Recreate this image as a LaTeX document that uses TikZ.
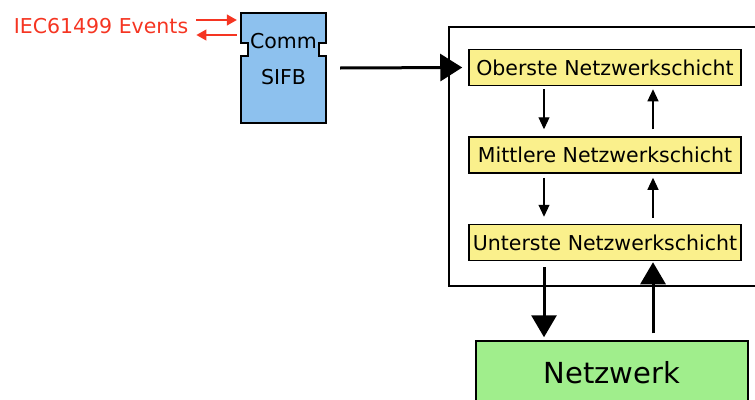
\documentclass[tikz,border=0pt]{standalone}
\usepackage{fontspec}
\setmainfont{DejaVu Sans}
\usetikzlibrary{arrows.meta}
\definecolor{sifbblue}{HTML}{8DC1EE}
\definecolor{layeryellow}{HTML}{FAF08C}
\definecolor{netgreen}{HTML}{A0EE8C}
\definecolor{eventred}{HTML}{F53522}
\tikzset{
    thinarrow/.style={line width=1.2pt,-{Triangle[length=12pt,width=11pt]}},
    thickarrow/.style={line width=3pt,-{Triangle[length=22pt,width=25pt]}}
}
\begin{document}
\begin{tikzpicture}[x=1pt,y=-1pt]
    \useasboundingbox (0,0) rectangle (755,399);
    \clip (0,0) rectangle (755,399);
    % Rahmen um die Schichten
    \draw[line width=1.5pt] (449,27) rectangle (770,286);
    \begin{scope}[every node/.style={draw=black,line width=1.5pt,fill=layeryellow,minimum width=272pt,minimum height=36pt,inner sep=0pt,font=\fontsize{20.5}{24}\selectfont}]
        \node (ober) at (605,67.5) {Oberste Netzwerkschicht};
        \node (mitt) at (605,155) {Mittlere Netzwerkschicht};
        \node (unter) at (605,242.5) {Unterste Netzwerkschicht};
    \end{scope}
    \node[draw=black,line width=1.5pt,fill=netgreen,minimum width=272pt,minimum height=64pt,inner sep=0pt,font=\fontsize{29}{34}\selectfont] (netz) at (612,373) {Netzwerk};
    % Comm SIFB Baustein
    \node[minimum width=85pt,minimum height=110pt,inner sep=0pt] (sifb) at (283.5,68) {};
    \draw[line width=1.5pt,fill=sifbblue] (241,13) -- (326,13) -- (326,43) -- (319,43) -- (319,56) -- (326,56) -- (326,123)
        -- (241,123) -- (241,56) -- (248,56) -- (248,43) -- (241,43) -- cycle;
    \begin{scope}[every node/.style={inner sep=0pt,font=\fontsize{20.5}{24}\selectfont}]
        \node (comm) at (283.5,41) {Comm};
        \node (sifbtxt) at (283.5,77) {SIFB};
        \node[text=eventred] (iec) at (101,26) {IEC61499 Events};
    \end{scope}
    % Pfeile zwischen den Schichten
    \draw[thinarrow] ([xshift=-61pt,yshift=-3pt]ober.south) -- ([xshift=-61pt,yshift=7pt]mitt.north);
    \draw[thinarrow] ([xshift=48pt,yshift=7pt]mitt.north) -- ([xshift=48pt,yshift=-3pt]ober.south);
    \draw[thinarrow] ([xshift=-61pt,yshift=-4pt]mitt.south) -- ([xshift=-61pt,yshift=7pt]unter.north);
    \draw[thinarrow] ([xshift=48pt,yshift=6pt]unter.north) -- ([xshift=48pt,yshift=-4pt]mitt.south);
    \draw[thickarrow] ([xshift=-61pt,yshift=-6pt]unter.south) -- ([xshift=-68pt,yshift=3pt]netz.north);
    \draw[thickarrow] ([xshift=41pt,yshift=7pt]netz.north) -- ([xshift=48pt,yshift=-1pt]unter.south);
    \draw[thickarrow,-{Triangle[length=22pt,width=27pt]}] ([xshift=14pt]sifb.east) -- ([xshift=-6pt]ober.west);
    % Ereignisse
    \draw[thinarrow,-{Triangle[length=10pt,width=11pt]},draw=eventred,fill=eventred] ([xshift=8pt,yshift=6pt]iec.east) -- ([xshift=-4pt,yshift=48pt]sifb.west);
    \draw[thinarrow,-{Triangle[length=10pt,width=11pt]},draw=eventred,fill=eventred] ([xshift=-4pt,yshift=33pt]sifb.west) -- ([xshift=8pt,yshift=-9pt]iec.east);
\end{tikzpicture}
\end{document}
